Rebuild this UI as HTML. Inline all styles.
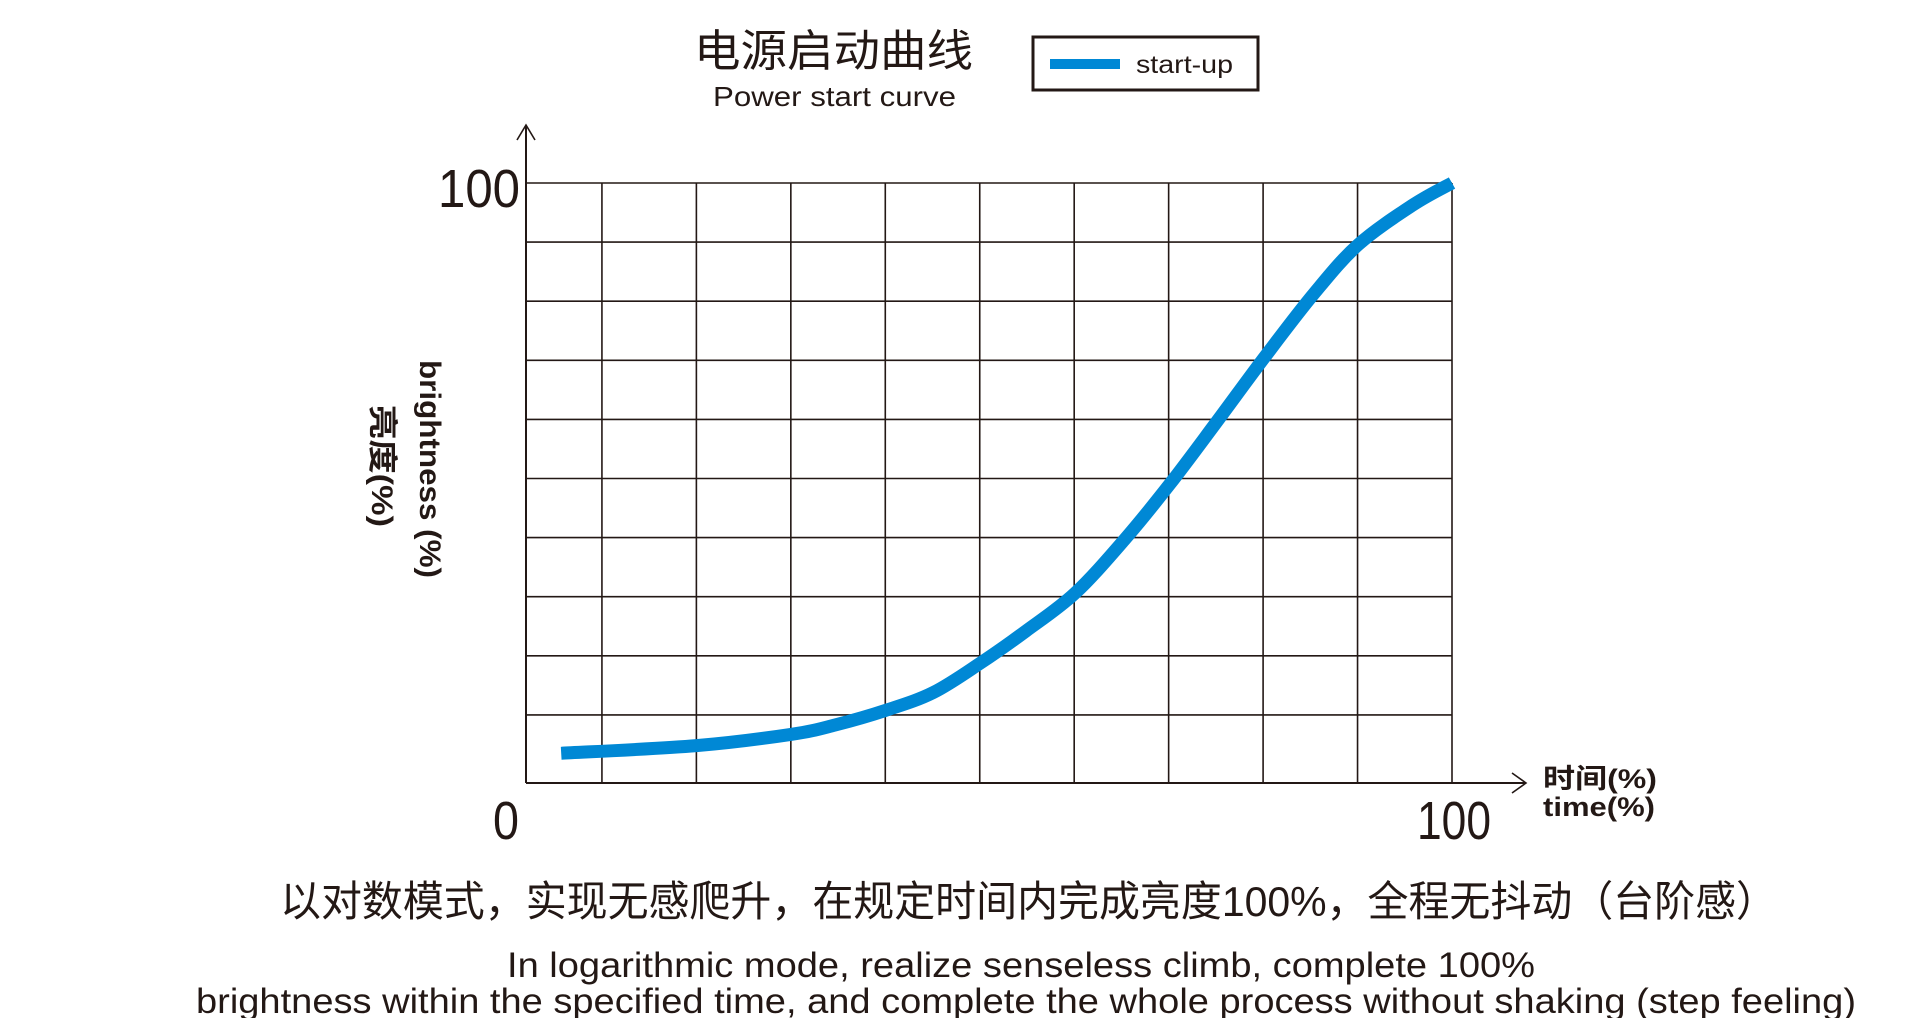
<!DOCTYPE html>
<html><head><meta charset="utf-8"><style>
html,body{margin:0;padding:0;background:#fff;}
svg{display:block;}
text{fill:#231815;}
</style></head><body>
<svg id="chart" width="1926" height="1018" viewBox="0 0 1926 1018" xmlns="http://www.w3.org/2000/svg">
<g id="grid"></g>
<g id="axes"></g>
<path id="curve" fill="none" stroke="#0088d5" stroke-width="13" stroke-linecap="butt"/>
<text x="694" y="66" font-size="44" textLength="279" lengthAdjust="spacingAndGlyphs" font-family="Liberation Sans, Noto Sans CJK SC, sans-serif">电源启动曲线</text>
<text x="713" y="106" font-size="28" textLength="243" lengthAdjust="spacingAndGlyphs" font-family="Liberation Sans, sans-serif">Power start curve</text>
<g>
<rect x="1033" y="37" width="225" height="53" fill="none" stroke="#231815" stroke-width="3"/>
<line x1="1050" y1="64" x2="1120" y2="64" stroke="#0088d5" stroke-width="10"/>
<text x="1136" y="73" font-size="25" textLength="97" lengthAdjust="spacingAndGlyphs" font-family="Liberation Sans, sans-serif">start-up</text>
</g>
<text x="438" y="207" font-size="54" textLength="82" lengthAdjust="spacingAndGlyphs" font-family="Liberation Sans, sans-serif">100</text>
<text x="493" y="839" font-size="54" textLength="26" lengthAdjust="spacingAndGlyphs" font-family="Liberation Sans, sans-serif">0</text>
<text x="1417" y="839" font-size="54" textLength="74" lengthAdjust="spacingAndGlyphs" font-family="Liberation Sans, sans-serif">100</text>
<text x="1543" y="788" font-size="27" font-weight="bold" textLength="114" lengthAdjust="spacingAndGlyphs" font-family="Liberation Sans, Noto Sans CJK SC, sans-serif">时间(%)</text>
<text x="1543" y="816" font-size="27" font-weight="bold" textLength="112" lengthAdjust="spacingAndGlyphs" font-family="Liberation Sans, sans-serif">time(%)</text>
<text transform="translate(420,360) rotate(90)" x="0" y="0" font-size="30" font-weight="bold" textLength="218" lengthAdjust="spacingAndGlyphs" font-family="Liberation Sans, sans-serif">brightness (%)</text>
<text transform="translate(372,405) rotate(90)" x="0" y="0" font-size="30" font-weight="bold" textLength="122" lengthAdjust="spacingAndGlyphs" font-family="Liberation Sans, Noto Sans CJK SC, sans-serif">亮度(%)</text>
<text x="280" y="916" font-size="42" textLength="1497" lengthAdjust="spacingAndGlyphs" font-family="Liberation Sans, Noto Sans CJK SC, sans-serif">以对数模式，实现无感爬升，在规定时间内完成亮度100%，全程无抖动（台阶感）</text>
<text x="507" y="977" font-size="35" textLength="1028" lengthAdjust="spacingAndGlyphs" font-family="Liberation Sans, sans-serif">In logarithmic mode, realize senseless climb, complete 100%</text>
<text x="196" y="1013" font-size="35" textLength="1660" lengthAdjust="spacingAndGlyphs" font-family="Liberation Sans, sans-serif">brightness within the specified time, and complete the whole process without shaking (step feeling)</text>
</svg>
<script>
const timeValues = [3.8, 18.4, 28.6, 33.4, 38.9, 44.0, 49.1, 54.0, 59.3, 64.6, 69.5, 74.5, 79.7, 85.1, 89.9, 95.8, 100];
const brightnessValues = [3.5, 4.8, 6.7, 8.3, 10.8, 13.8, 18.8, 24.2, 30.6, 39.6, 49.0, 59.4, 70.4, 81.3, 89.6, 96.3, 100];
const xGridTicks = [0, 8.2, 18.4, 28.6, 38.8, 49.0, 59.2, 69.4, 79.6, 89.8, 100];
const yGridTicks = [10, 20, 30, 40, 50, 60, 70, 80, 90, 100];

const X0 = 526, X1 = 1452, YTOP = 183, YZERO = 774, AXISY = 783;
function xs(v){ return X0 + (X1 - X0) * v / 100; }
function ys(v){ return YZERO - (YZERO - YTOP) * v / 100; }
const NS = 'http://www.w3.org/2000/svg';
const grid = document.getElementById('grid');
function line(parent, x1, y1, x2, y2, w, name){
  const l = document.createElementNS(NS, 'line');
  l.setAttribute('x1', x1); l.setAttribute('y1', y1);
  l.setAttribute('x2', x2); l.setAttribute('y2', y2);
  l.setAttribute('stroke', '#231815'); l.setAttribute('stroke-width', w);
  
  
  parent.appendChild(l); return l;
}
xGridTicks.forEach(function(t, i){ if (i > 0) line(grid, xs(t), YTOP, xs(t), AXISY, 1.6, 'grid-line-vertical'); });
yGridTicks.forEach(function(t){ line(grid, X0, ys(t), X1, ys(t), 1.6, 'grid-line-horizontal'); });
const axes = document.getElementById('axes');
line(axes, X0, AXISY, X0, 125, 2, 'y-axis-line');
line(axes, X0, AXISY, 1526, AXISY, 2, 'x-axis-line');
const ya = document.createElementNS(NS, 'polyline');
ya.setAttribute('points', (X0-9)+',140 '+X0+',125 '+(X0+9)+',140');
ya.setAttribute('fill', 'none'); ya.setAttribute('stroke', '#231815'); ya.setAttribute('stroke-width', 1.6);


axes.appendChild(ya);
const xa = document.createElementNS(NS, 'polyline');
xa.setAttribute('points', '1512,'+(AXISY-10)+' 1526,'+AXISY+' 1512,'+(AXISY+10));
xa.setAttribute('fill', 'none'); xa.setAttribute('stroke', '#231815'); xa.setAttribute('stroke-width', 1.6);


axes.appendChild(xa);

const pts = timeValues.map(function(t, i){ return [xs(t), ys(brightnessValues[i])]; });
let d = 'M' + pts[0][0] + ',' + pts[0][1];
for (let i = 0; i < pts.length - 1; i++) {
  const p0 = pts[Math.max(0, i-1)], p1 = pts[i], p2 = pts[i+1], p3 = pts[Math.min(pts.length-1, i+2)];
  const c1x = p1[0] + (p2[0]-p0[0])/6, c1y = p1[1] + (p2[1]-p0[1])/6;
  const c2x = p2[0] - (p3[0]-p1[0])/6, c2y = p2[1] - (p3[1]-p1[1])/6;
  d += ' C' + c1x + ',' + c1y + ' ' + c2x + ',' + c2y + ' ' + p2[0] + ',' + p2[1];
}
document.getElementById('curve').setAttribute('d', d);
</script>
</body></html>
